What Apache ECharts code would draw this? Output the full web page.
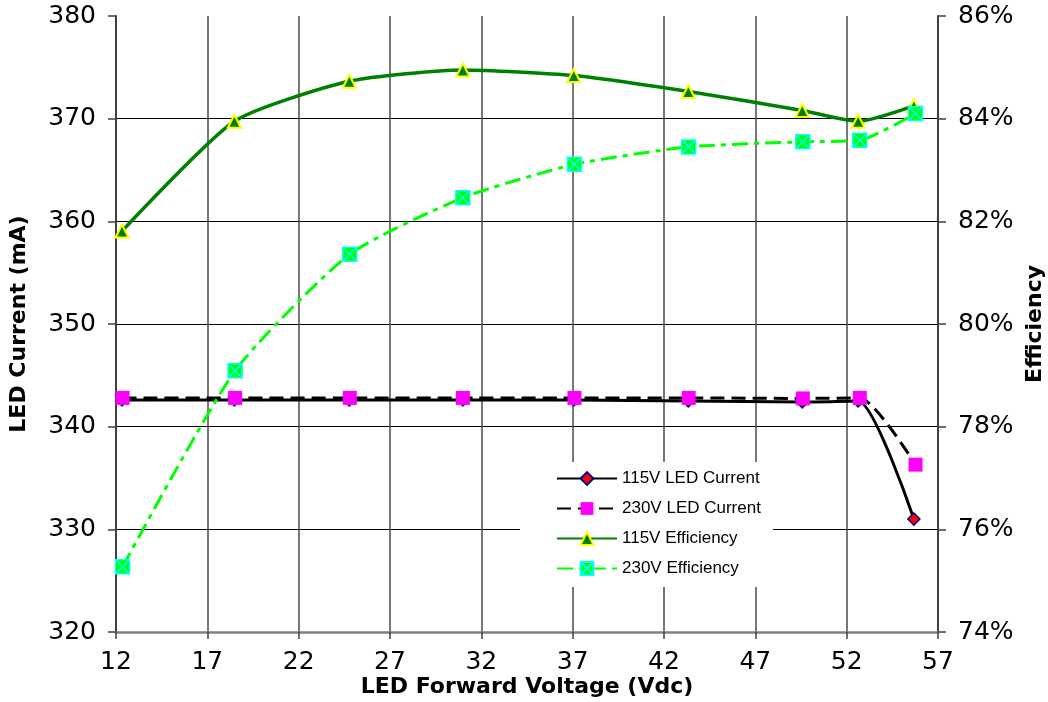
<!DOCTYPE html>
<html>
<head>
<meta charset="utf-8">
<script src="https://cdn.jsdelivr.net/npm/echarts@6/dist/echarts.min.js"></script>
<style>
html,body{margin:0;padding:0;background:#fff;}
#chart{width:1048px;height:702px;}
</style>
</head>
<body>
<div id="chart"></div>
<script>
// ---- data ----
var voltage115 = [12.33, 18.48, 24.77, 30.99, 37.06, 43.33, 49.57, 52.63, 55.68];
var voltage230 = [12.36, 18.52, 24.80, 30.99, 37.10, 43.35, 49.60, 52.72, 55.77];
var current115 = [342.6, 342.6, 342.6, 342.6, 342.6, 342.5, 342.4, 342.5, 331.0];
var current230 = [342.8, 342.8, 342.8, 342.8, 342.8, 342.8, 342.75, 342.8, 336.3];
var eff115 = [81.81, 83.95, 84.73, 84.95, 84.84, 84.53, 84.16, 83.95, 84.25];
var eff230 = [75.27, 79.09, 81.36, 82.46, 83.11, 83.45, 83.55, 83.58, 84.10];
var seriesNames = ['115V LED Current', '230V LED Current', '115V Efficiency', '230V Efficiency'];
var xTitle = 'LED Forward Voltage (Vdc)';
var yLeftTitle = 'LED Current (mA)';
var yRightTitle = 'Efficiency';

function pairs(xs, ys) { return xs.map(function (x, i) { return [x, ys[i]]; }); }

var tickFont = { fontFamily: 'DejaVu Sans', fontSize: 25, color: '#000' };
var titleFont = { fontFamily: 'DejaVu Sans', fontWeight: 'bold', fontSize: 22, color: '#000' };

var chart = echarts.init(document.getElementById('chart'), null, { renderer: 'canvas' });
chart.setOption({
  animation: false,
  backgroundColor: '#fff',
  grid: { left: 116, right: 110, top: 16, bottom: 70, containLabel: false, outerBoundsMode: 'none' },
  legend: {
    orient: 'vertical',
    left: 520, top: 462,
    backgroundColor: '#fff',
    padding: [8, 12, 10, 36],
    itemGap: 13,
    itemWidth: 60, itemHeight: 16,
    textStyle: { fontFamily: 'Liberation Sans', fontSize: 17, color: '#000' },
    data: seriesNames
  },
  xAxis: {
    type: 'value', min: 12, max: 57, interval: 5,
    name: xTitle, nameLocation: 'middle', nameGap: 44, nameMoveOverlap: false, nameTextStyle: titleFont,
    axisLine: { show: true, lineStyle: { color: '#808080', width: 2.5 } },
    axisTick: { show: true, inside: false, length: 7, lineStyle: { color: '#404040', width: 1.5 } },
    axisLabel: Object.assign({ margin: 18 }, tickFont),
    splitLine: { show: true, showMinLine: false, showMaxLine: false, lineStyle: { color: '#4a4a4a', width: 1.5 } }
  },
  yAxis: [{
    type: 'value', min: 320, max: 380, interval: 10, position: 'left',
    name: yLeftTitle, nameLocation: 'middle', nameGap: 86, nameRotate: 90, nameTextStyle: titleFont,
    axisLine: { show: true, lineStyle: { color: '#404040', width: 2 } },
    axisTick: { show: true, inside: false, length: 8, lineStyle: { color: '#404040', width: 1.5 } },
    axisLabel: Object.assign({ margin: 20 }, tickFont),
    splitLine: { show: true, showMinLine: false, showMaxLine: false, lineStyle: { color: '#000', width: 1.2 } }
  }, {
    type: 'value', min: 74, max: 86, interval: 2, position: 'right',
    name: yRightTitle, nameLocation: 'middle', nameGap: 83, nameRotate: 90, nameTextStyle: titleFont,
    axisLine: { show: true, lineStyle: { color: '#404040', width: 2 } },
    axisTick: { show: true, inside: false, length: 8, lineStyle: { color: '#404040', width: 1.5 } },
    axisLabel: Object.assign({ margin: 20, formatter: '{value}%' }, tickFont),
    splitLine: { show: false }
  }],
  series: [{
    name: seriesNames[0], type: 'line', yAxisIndex: 0, smooth: 0.2,
    data: pairs(voltage115, current115),
    symbol: 'diamond', symbolSize: 12,
    lineStyle: { color: '#000', width: 3 },
    itemStyle: { color: '#ff0000', borderColor: '#000080', borderWidth: 1.5 }
  }, {
    name: seriesNames[1], type: 'line', yAxisIndex: 0, smooth: 0.2,
    data: pairs(voltage230, current230),
    symbol: 'rect', symbolSize: 14,
    lineStyle: { color: '#000', width: 3, type: [14, 7] },
    itemStyle: { color: '#ff00ff', borderWidth: 0 }
  }, {
    name: seriesNames[2], type: 'line', yAxisIndex: 1, smooth: 0.2,
    data: pairs(voltage115, eff115),
    symbol: 'triangle', symbolSize: 13,
    lineStyle: { color: '#008000', width: 3.5 },
    itemStyle: { color: '#008000', borderColor: '#ffff00', borderWidth: 2 }
  }, {
    name: seriesNames[3], type: 'line', yAxisIndex: 1, smooth: 0.2,
    data: pairs(voltage230, eff230),
    symbol: 'path://M0,0L10,0L10,10L0,10ZM0,0L10,10M10,0L0,10', symbolSize: 14,
    lineStyle: { color: '#00ff00', width: 3, type: [16, 6, 5, 6] },
    itemStyle: { color: '#00ff00', borderColor: '#00ffff', borderWidth: 1.5 }
  }]
});
</script>
</body>
</html>
